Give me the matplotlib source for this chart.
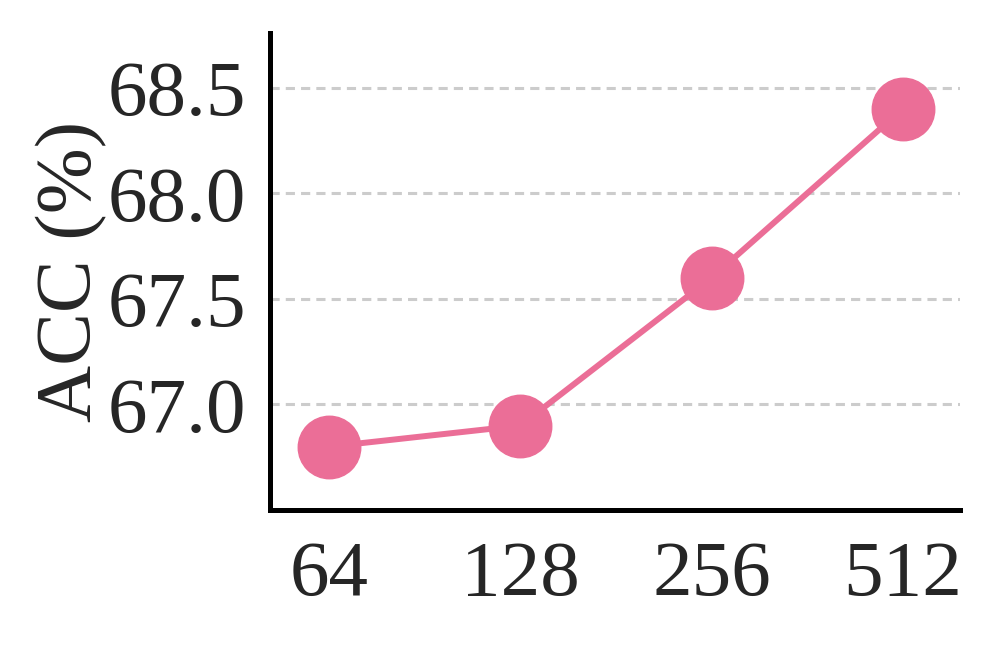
import matplotlib
matplotlib.use("Agg")
import matplotlib.pyplot as plt

categories = ["64", "128", "256", "512"]
acc = [66.8, 66.9, 67.6, 68.4]
yticks = [67.0, 67.5, 68.0, 68.5]

plt.rcParams['font.family'] = ['Liberation Serif', 'DejaVu Serif']
fig = plt.figure(figsize=(9.95, 6.45), dpi=100)
ax = fig.add_axes([270/995, (645-510)/645, (960-270)/995, (510-33)/645])

x = list(range(len(categories)))
ax.plot(x, acc, color='#EB6E97', linewidth=4.3, marker='o', markersize=45, zorder=3)
ax.set_xlim(-0.31, 3.3)
ax.set_ylim(66.5, 68.76)
ax.set_xticks(x)
ax.set_xticklabels(categories)
ax.set_yticks(yticks)
ax.set_yticklabels([f"{v:.1f}" for v in yticks])
ax.tick_params(axis='both', length=0, labelsize=57, colors='#262626')
ax.tick_params(axis='x', pad=22)
ax.tick_params(axis='y', pad=17)
ax.set_ylabel("ACC (%)", fontsize=57, color='#262626', labelpad=0)
ax.grid(axis='y', linestyle=(0, (3, 2)), color='#cccccc', linewidth=2.2)
ax.set_axisbelow(True)
for s in ['top', 'right']:
    ax.spines[s].set_visible(False)
for s in ['left', 'bottom']:
    ax.spines[s].set_linewidth(3.6)
    ax.spines[s].set_color('black')

fig.savefig("out.png", dpi=100)
